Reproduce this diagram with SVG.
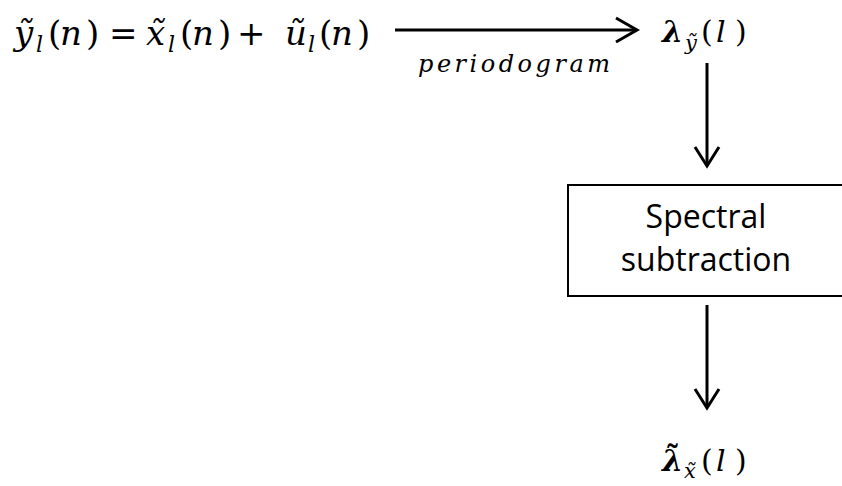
<svg xmlns="http://www.w3.org/2000/svg" width="842" height="486" viewBox="0 0 842 486">
<style>
.m{font-family:"DejaVu Serif","Liberation Serif",serif;font-style:italic;fill:#000}
.r{font-style:normal}
.b{font-weight:bold}
.lbl{font-family:"Open Sans","Liberation Sans",sans-serif;font-size:32px;fill:#000;text-anchor:middle}
.ln{stroke:#000;stroke-width:3;fill:none}
.ah{stroke:#000;stroke-width:3;fill:none;stroke-linejoin:miter}
</style>
<rect width="842" height="486" fill="#fff"/>
<g id="eq">
<text class="m" font-size="34"><tspan x="14" y="45">ỹ</tspan><tspan x="36" y="52" font-size="22">l</tspan><tspan class="r" x="48" y="45">(</tspan><tspan x="60" y="45">n</tspan><tspan class="r" x="86" y="45">)</tspan><tspan class="r" x="109" y="45">=</tspan><tspan x="146" y="45">x̃</tspan><tspan x="168" y="52" font-size="22">l</tspan><tspan class="r" x="180" y="45">(</tspan><tspan x="192" y="45">n</tspan><tspan class="r" x="218" y="45">)</tspan><tspan class="r" x="237" y="45">+</tspan><tspan x="285" y="45">ũ</tspan><tspan x="308" y="52" font-size="22">l</tspan><tspan class="r" x="319" y="45">(</tspan><tspan x="331" y="45">n</tspan><tspan class="r" x="357" y="45">)</tspan></text>
</g>
<g id="lambda_y">
<text class="m" font-size="30"><tspan class="b" x="662" y="42">λ</tspan><tspan x="685" y="50" font-size="21">ỹ</tspan><tspan class="r" x="701" y="42">(</tspan><tspan x="716" y="42">l</tspan><tspan class="r" x="735" y="42">)</tspan></text>
</g>
<g id="spectral_subtraction">
<rect x="568" y="185" width="300" height="111" fill="#fff" stroke="#000" stroke-width="2"/>
<text class="lbl" x="706" y="228">Spectral</text>
<text class="lbl" x="706" y="271">subtraction</text>
</g>
<g id="lambda_x">
<text class="m" font-size="30"><tspan class="b" x="662" y="471">λ</tspan><tspan class="b r" x="665" y="467">˜</tspan><tspan x="684" y="478" font-size="21">x̃</tspan><tspan class="r" x="701" y="471">(</tspan><tspan x="716" y="471">l</tspan><tspan class="r" x="735" y="471">)</tspan></text>
</g>
<g id="connectors">
<line class="ln" x1="395" y1="30" x2="635" y2="30"/>
<polyline class="ah" points="616,18 637,30 616,42"/>
<text class="m" x="418" y="72" font-size="24" textLength="192" lengthAdjust="spacing">periodogram</text>
<line class="ln" x1="707" y1="63" x2="707" y2="164"/>
<polyline class="ah" points="695,147 707,166 719,147"/>
<line class="ln" x1="707" y1="305" x2="707" y2="406"/>
<polyline class="ah" points="695,389 707,408 719,389"/>
</g>
</svg>
